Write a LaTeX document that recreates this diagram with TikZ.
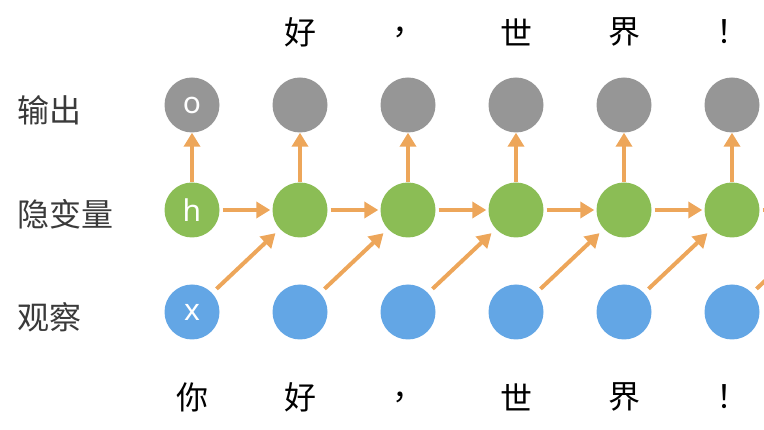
\documentclass[tikz,border=0pt]{standalone}
\usepackage{fontspec}
\setmainfont{Noto Sans}
\newfontfamily\cjk{Noto Sans CJK SC}
\usepackage{tikz}
\usetikzlibrary{arrows.meta}
\definecolor{outgray}{HTML}{969696}
\definecolor{hidgreen}{HTML}{8BBD55}
\definecolor{obsblue}{HTML}{63A6E5}
\definecolor{arrorange}{HTML}{EDA65A}
\definecolor{labelgray}{HTML}{3A3A3A}
\tikzstyle{unit} = [circle, inner sep = 0pt, minimum size = 55pt, text = white, font = \fontsize{30}{30}\selectfont]
\tikzstyle{onode} = [unit, fill = outgray]
\tikzstyle{hnode} = [unit, fill = hidgreen]
\tikzstyle{xnode} = [unit, fill = obsblue]
\tikzstyle{word} = [font = \cjk\fontsize{32}{32}\selectfont]
\tikzstyle{rowlabel} = [word, text = labelgray, anchor = west, inner sep = 0pt]
\tikzstyle{line} = [draw, arrorange, line width = 4pt, -{Triangle[length = 14pt, width = 16pt]}]
\tikzstyle{step line} = [line, shorten <= 3pt, shorten >= 2pt]
\tikzstyle{in line} = [line, shorten <= 6pt, shorten >= 6pt]

\begin{document}
\begin{tikzpicture}[x = 1pt, y = -1pt]
				\useasboundingbox (0, 0) rectangle (764, 430);

				\node [rowlabel] (lo) at (17, 110) {输出};
				\node [rowlabel] (lh) at (17, 214) {隐变量};
				\node [rowlabel] (lx) at (17, 317) {观察};

				\node [onode] (o1) at (192, 105) {o};
				\node [onode] (o2) at (300, 105) {};
				\node [onode] (o3) at (408, 105) {};
				\node [onode] (o4) at (516, 105) {};
				\node [onode] (o5) at (624, 105) {};
				\node [onode] (o6) at (732, 105) {};

				\node [hnode] (h1) at (192, 210) {h};
				\node [hnode] (h2) at (300, 210) {};
				\node [hnode] (h3) at (408, 210) {};
				\node [hnode] (h4) at (516, 210) {};
				\node [hnode] (h5) at (624, 210) {};
				\node [hnode] (h6) at (732, 210) {};
				\coordinate (h7) at (840, 210);

				\node [xnode] (x1) at (192, 312) {x};
				\node [xnode] (x2) at (300, 312) {};
				\node [xnode] (x3) at (408, 312) {};
				\node [xnode] (x4) at (516, 312) {};
				\node [xnode] (x5) at (624, 312) {};
				\node [xnode] (x6) at (732, 312) {};

				\node [word] (t2) at (300, 32) {好};
				\node [word] (t3) at (408, 32) {，};
				\node [word] (t4) at (516, 32) {世};
				\node [word] (t5) at (624, 32) {界};
				\node [word] (t6) at (732, 32) {！};

				\node [word] (b1) at (192, 397) {你};
				\node [word] (b2) at (300, 397) {好};
				\node [word] (b3) at (408, 397) {，};
				\node [word] (b4) at (516, 397) {世};
				\node [word] (b5) at (624, 397) {界};
				\node [word] (b6) at (732, 397) {！};

				% hidden to output
				\path [line] (h1) -- (o1);
				\path [line] (h2) -- (o2);
				\path [line] (h3) -- (o3);
				\path [line] (h4) -- (o4);
				\path [line] (h5) -- (o5);
				\path [line] (h6) -- (o6);

				% hidden to hidden
				\path [step line] (h1) -- (h2);
				\path [step line] (h2) -- (h3);
				\path [step line] (h3) -- (h4);
				\path [step line] (h4) -- (h5);
				\path [step line] (h5) -- (h6);
				\path [step line] (h6) -- (h7);

				% input to next hidden
				\path [in line] (x1) -- (h2);
				\path [in line] (x2) -- (h3);
				\path [in line] (x3) -- (h4);
				\path [in line] (x4) -- (h5);
				\path [in line] (x5) -- (h6);
				\path [in line] (x6) -- (h7);
			\end{tikzpicture}
\end{document}
